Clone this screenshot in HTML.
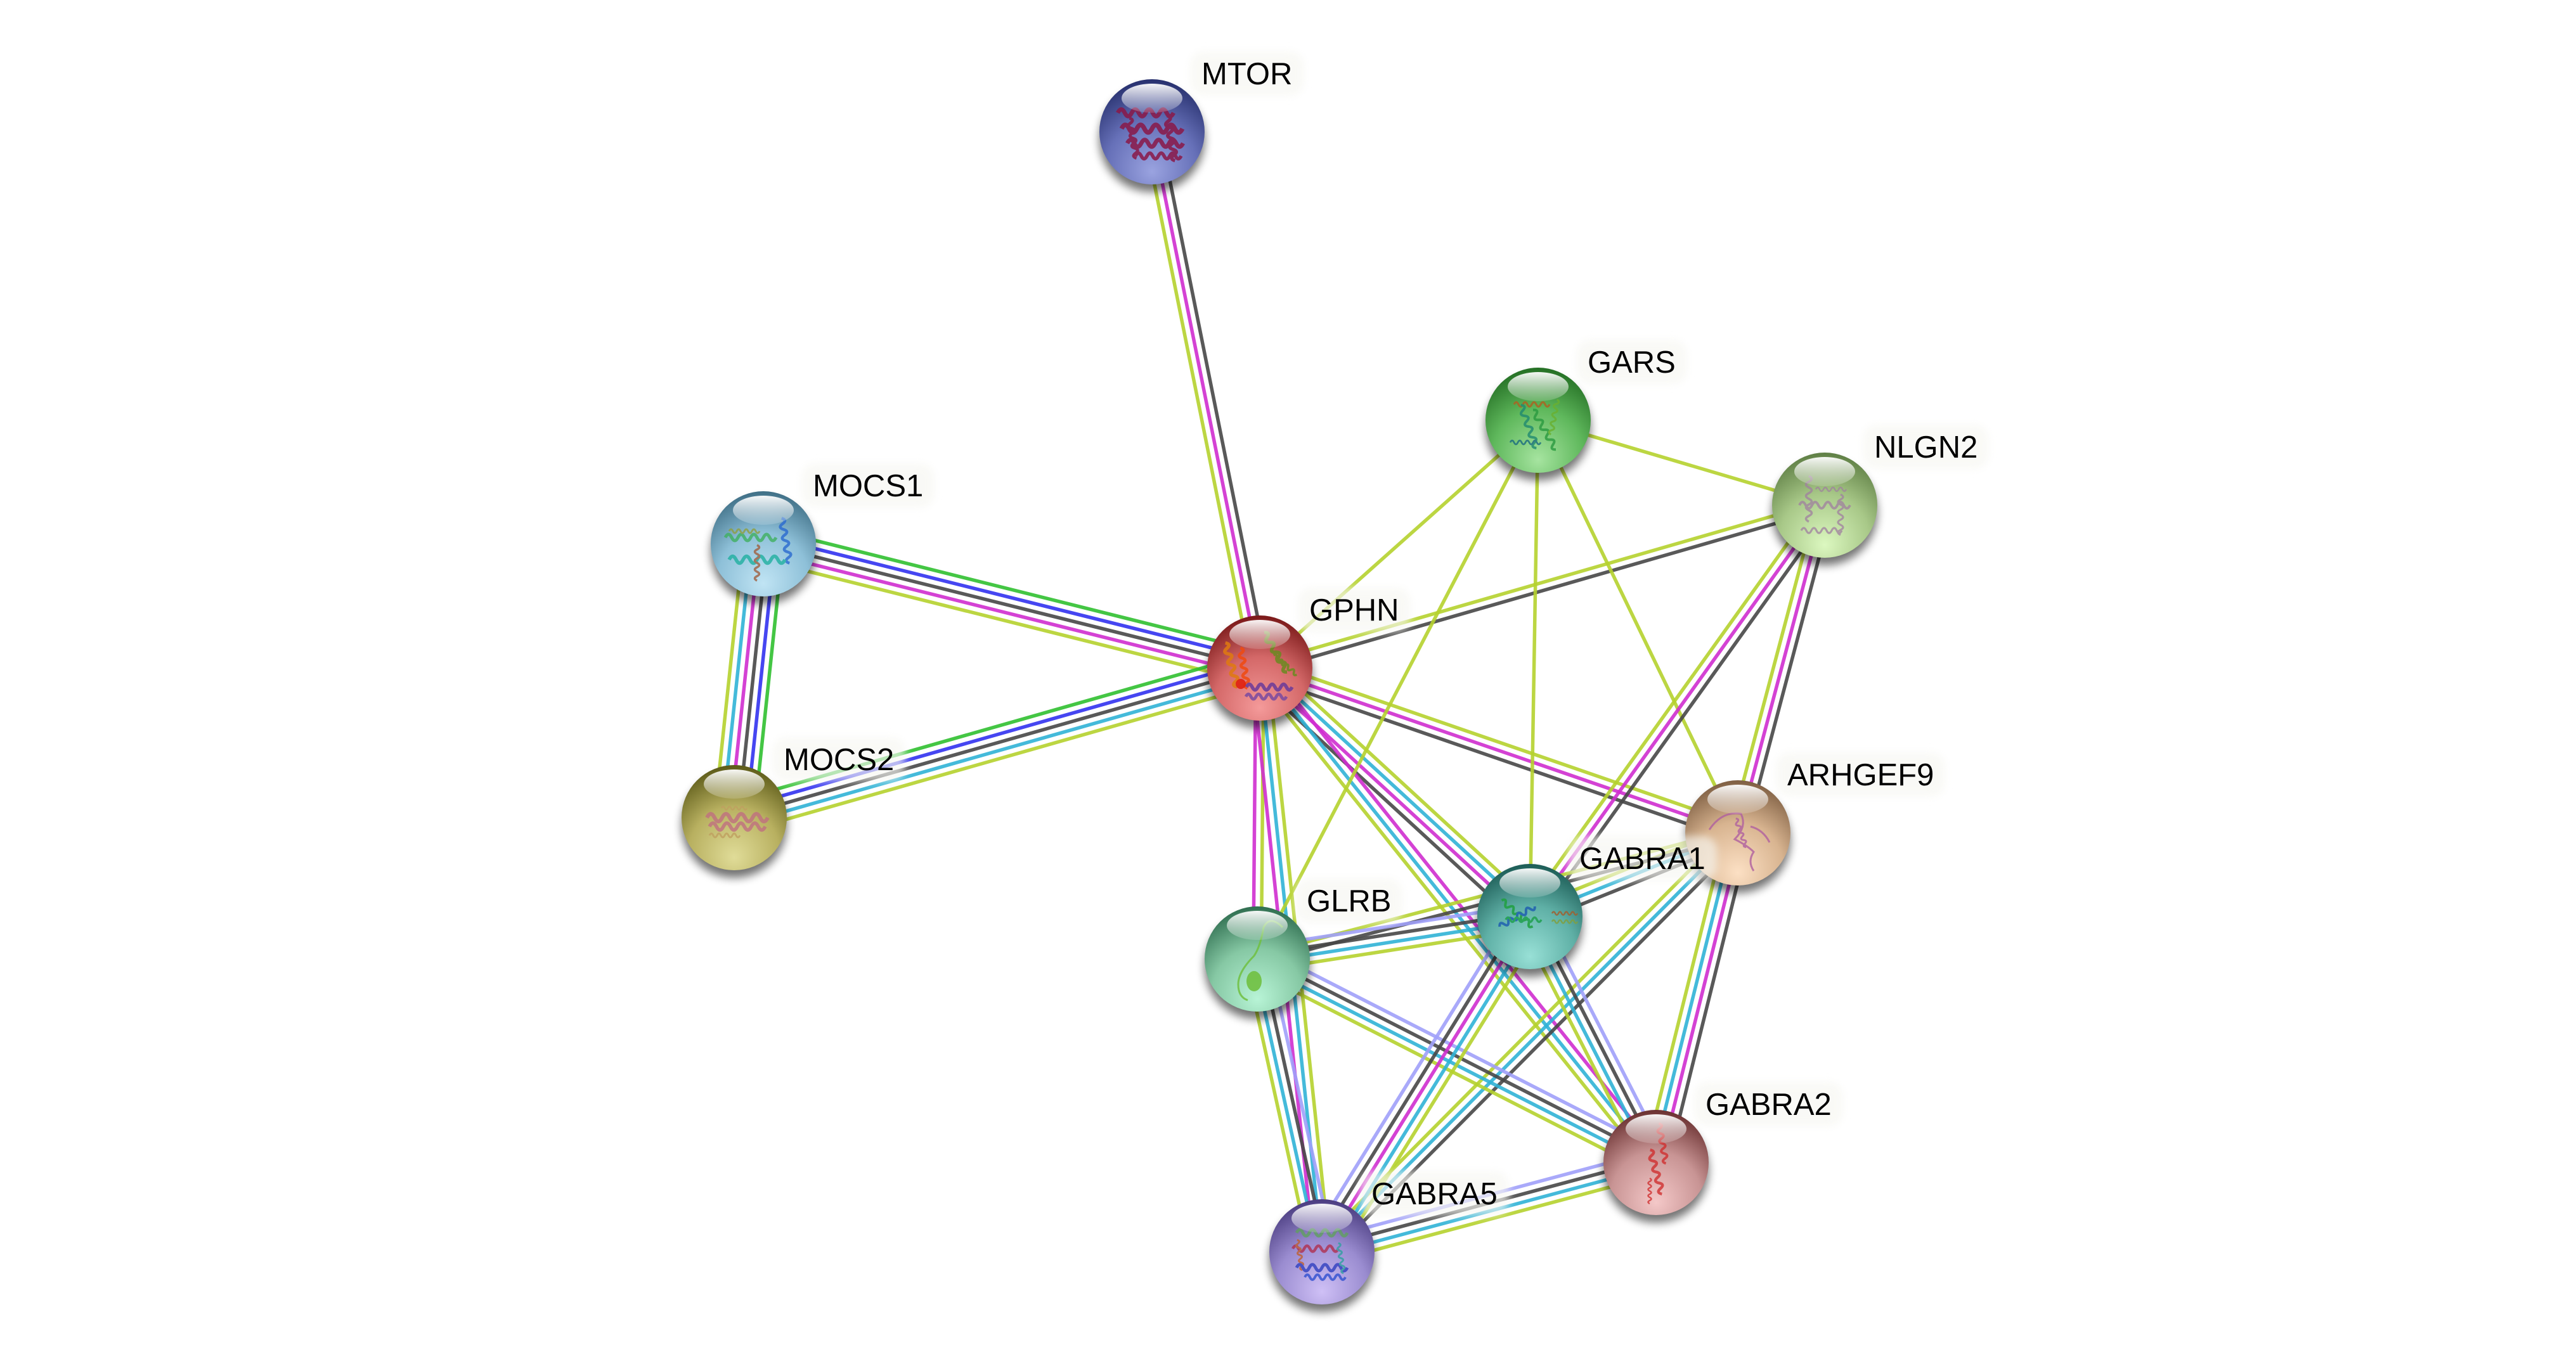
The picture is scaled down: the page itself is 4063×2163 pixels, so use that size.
<!DOCTYPE html>
<html>
<head>
<meta charset="utf-8">
<style>
html,body{margin:0;padding:0;background:#fff;}
svg{display:block;}
.L{stroke:#b5d22d}.M{stroke:#cf2ecf}.D{stroke:#474747}.C{stroke:#30b2d6}.B{stroke:#3232f0}.G{stroke:#30c030}.P{stroke:#a0a0fa}
text{font-family:"Liberation Sans",Arial,sans-serif;font-size:49px;fill:#000;}
</style>
</head>
<body>
<svg width="4063" height="2163" viewBox="0 0 4063 2163" xmlns="http://www.w3.org/2000/svg">
<defs>
<filter id="sh" x="-40%" y="-40%" width="180%" height="180%"><feGaussianBlur stdDeviation="7"/></filter>
<filter id="lb" x="-30%" y="-60%" width="160%" height="220%"><feGaussianBlur stdDeviation="6"/></filter>
<linearGradient id="hl" x1="0" y1="0" x2="0" y2="1">
<stop offset="0" stop-color="#fff" stop-opacity="0.95"/>
<stop offset="1" stop-color="#fff" stop-opacity="0.15"/>
</linearGradient>
<radialGradient id="gMTOR" cx="50%" cy="78%" r="78%" fx="50%" fy="88%"><stop offset="0" stop-color="#9aa3e0"/><stop offset="0.55" stop-color="#6670b8"/><stop offset="1" stop-color="#27306e"/></radialGradient>
<radialGradient id="gGARS" cx="50%" cy="78%" r="78%" fx="50%" fy="88%"><stop offset="0" stop-color="#a6e4a0"/><stop offset="0.55" stop-color="#5fb85c"/><stop offset="1" stop-color="#246f24"/></radialGradient>
<radialGradient id="gNLGN2" cx="50%" cy="78%" r="78%" fx="50%" fy="88%"><stop offset="0" stop-color="#dcf8c0"/><stop offset="0.55" stop-color="#a8c888"/><stop offset="1" stop-color="#5f7f45"/></radialGradient>
<radialGradient id="gMOCS1" cx="50%" cy="78%" r="78%" fx="50%" fy="88%"><stop offset="0" stop-color="#c0e4f4"/><stop offset="0.55" stop-color="#8ec0d8"/><stop offset="1" stop-color="#3f6f86"/></radialGradient>
<radialGradient id="gGPHN" cx="50%" cy="78%" r="78%" fx="50%" fy="88%"><stop offset="0" stop-color="#f49a9a"/><stop offset="0.55" stop-color="#d46868"/><stop offset="1" stop-color="#7a1818"/></radialGradient>
<radialGradient id="gMOCS2" cx="50%" cy="78%" r="78%" fx="50%" fy="88%"><stop offset="0" stop-color="#e0dc98"/><stop offset="0.55" stop-color="#b8b060"/><stop offset="1" stop-color="#5c5a18"/></radialGradient>
<radialGradient id="gARHGEF9" cx="50%" cy="78%" r="78%" fx="50%" fy="88%"><stop offset="0" stop-color="#fce0c4"/><stop offset="0.55" stop-color="#d8b490"/><stop offset="1" stop-color="#7e5e42"/></radialGradient>
<radialGradient id="gGABRA1" cx="50%" cy="78%" r="78%" fx="50%" fy="88%"><stop offset="0" stop-color="#98e0d6"/><stop offset="0.55" stop-color="#5fb0a6"/><stop offset="1" stop-color="#1c5c56"/></radialGradient>
<radialGradient id="gGLRB" cx="50%" cy="78%" r="78%" fx="50%" fy="88%"><stop offset="0" stop-color="#b8f4d6"/><stop offset="0.55" stop-color="#86c8a4"/><stop offset="1" stop-color="#2f6e50"/></radialGradient>
<radialGradient id="gGABRA2" cx="50%" cy="78%" r="78%" fx="50%" fy="88%"><stop offset="0" stop-color="#f4c8c8"/><stop offset="0.55" stop-color="#c89494"/><stop offset="1" stop-color="#6a3030"/></radialGradient>
<radialGradient id="gGABRA5" cx="50%" cy="78%" r="78%" fx="50%" fy="88%"><stop offset="0" stop-color="#cfc0f6"/><stop offset="0.55" stop-color="#9a8cd0"/><stop offset="1" stop-color="#4a3c80"/></radialGradient>
<path id="sq" d="M-40,0 q5,-10 10,0 t10,0 t10,0 t10,0 t10,0 t10,0 t10,0 t10,0" fill="none"/>
</defs>

<rect width="4063" height="2163" fill="#fff"/>

<!-- EDGES -->
<g stroke-width="5.5" stroke-opacity="0.9" fill="none">
<g transform="translate(1817 208) rotate(78.64)"><line class="L" x1="0" y1="12.5" x2="862.9" y2="12.5"/><line class="M" x1="0" y1="0" x2="862.9" y2="0"/><line class="D" x1="0" y1="-12.5" x2="862.9" y2="-12.5"/></g>
<g transform="translate(1204 858) rotate(14.05)"><line class="L" x1="0" y1="25" x2="807.2" y2="25"/><line class="M" x1="0" y1="12.5" x2="807.2" y2="12.5"/><line class="D" x1="0" y1="0" x2="807.2" y2="0"/><line class="B" x1="0" y1="-12.5" x2="807.2" y2="-12.5"/><line class="G" x1="0" y1="-25" x2="807.2" y2="-25"/></g>
<g transform="translate(1158 1290) rotate(-15.89)"><line class="L" x1="0" y1="25" x2="861.9" y2="25"/><line class="C" x1="0" y1="12.5" x2="861.9" y2="12.5"/><line class="D" x1="0" y1="0" x2="861.9" y2="0"/><line class="B" x1="0" y1="-12.5" x2="861.9" y2="-12.5"/><line class="G" x1="0" y1="-25" x2="861.9" y2="-25"/></g>
<g transform="translate(1204 858) rotate(96.08)"><line class="L" x1="0" y1="31.25" x2="434.4" y2="31.25"/><line class="C" x1="0" y1="18.75" x2="434.4" y2="18.75"/><line class="M" x1="0" y1="6.25" x2="434.4" y2="6.25"/><line class="D" x1="0" y1="-6.25" x2="434.4" y2="-6.25"/><line class="B" x1="0" y1="-18.75" x2="434.4" y2="-18.75"/><line class="G" x1="0" y1="-31.25" x2="434.4" y2="-31.25"/></g>
<g transform="translate(1987 1054) rotate(-41.69)"><line class="L" x1="0" y1="0" x2="587.9" y2="0"/></g>
<g transform="translate(1987 1054) rotate(-16.09)"><line class="D" x1="0" y1="6.25" x2="927.3" y2="6.25"/><line class="L" x1="0" y1="-6.25" x2="927.3" y2="-6.25"/></g>
<g transform="translate(1987 1054) rotate(19.03)"><line class="D" x1="0" y1="12.5" x2="797.6" y2="12.5"/><line class="M" x1="0" y1="0" x2="797.6" y2="0"/><line class="L" x1="0" y1="-12.5" x2="797.6" y2="-12.5"/></g>
<g transform="translate(1987 1054) rotate(42.62)"><line class="D" x1="0" y1="18.75" x2="578.9" y2="18.75"/><line class="M" x1="0" y1="6.25" x2="578.9" y2="6.25"/><line class="C" x1="0" y1="-6.25" x2="578.9" y2="-6.25"/><line class="L" x1="0" y1="-18.75" x2="578.9" y2="-18.75"/></g>
<g transform="translate(1987 1054) rotate(51.30)"><line class="L" x1="0" y1="12.5" x2="999.5" y2="12.5"/><line class="C" x1="0" y1="0" x2="999.5" y2="0"/><line class="M" x1="0" y1="-12.5" x2="999.5" y2="-12.5"/></g>
<g transform="translate(1987 1054) rotate(90.5)"><line class="M" x1="0" y1="6.25" x2="459" y2="6.25"/><line class="L" x1="0" y1="-6.25" x2="459" y2="-6.25"/></g>
<g transform="translate(1987 1054) rotate(83.93)"><line class="M" x1="0" y1="12.5" x2="926.2" y2="12.5"/><line class="C" x1="0" y1="0" x2="926.2" y2="0"/><line class="L" x1="0" y1="-12.5" x2="926.2" y2="-12.5"/></g>
<g transform="translate(2426 663) rotate(16.51)"><line class="L" x1="0" y1="0" x2="471.4" y2="0"/></g>
<g transform="translate(2426 663) rotate(90.95)"><line class="L" x1="0" y1="0" x2="783.1" y2="0"/></g>
<g transform="translate(2426 663) rotate(64.18)"><line class="L" x1="0" y1="0" x2="723.2" y2="0"/></g>
<g transform="translate(2426 663) rotate(117.53)"><line class="L" x1="0" y1="0" x2="958.5" y2="0"/></g>
<g transform="translate(2878 797) rotate(125.62)"><line class="L" x1="0" y1="12.5" x2="798.4" y2="12.5"/><line class="M" x1="0" y1="0" x2="798.4" y2="0"/><line class="D" x1="0" y1="-12.5" x2="798.4" y2="-12.5"/></g>
<g transform="translate(2878 797) rotate(104.84)"><line class="L" x1="0" y1="12.5" x2="534.8" y2="12.5"/><line class="M" x1="0" y1="0" x2="534.8" y2="0"/><line class="D" x1="0" y1="-12.5" x2="534.8" y2="-12.5"/></g>
<g transform="translate(2741 1314) rotate(103.93)"><line class="L" x1="0" y1="18.75" x2="535.8" y2="18.75"/><line class="C" x1="0" y1="6.25" x2="535.8" y2="6.25"/><line class="M" x1="0" y1="-6.25" x2="535.8" y2="-6.25"/><line class="D" x1="0" y1="-18.75" x2="535.8" y2="-18.75"/></g>
<g transform="translate(2741 1314) rotate(158.08)"><line class="L" x1="0" y1="12.5" x2="353.6" y2="12.5"/><line class="C" x1="0" y1="0" x2="353.6" y2="0"/><line class="D" x1="0" y1="-12.5" x2="353.6" y2="-12.5"/></g>
<g transform="translate(2741 1314) rotate(134.78)"><line class="L" x1="0" y1="12.5" x2="931.3" y2="12.5"/><line class="C" x1="0" y1="0" x2="931.3" y2="0"/><line class="D" x1="0" y1="-12.5" x2="931.3" y2="-12.5"/></g>
<g transform="translate(1983 1513) rotate(-14.71)"><line class="D" x1="0" y1="6.25" x2="783.7" y2="6.25"/><line class="L" x1="0" y1="-6.25" x2="783.7" y2="-6.25"/></g>
<g transform="translate(1983 1513) rotate(-8.86)"><line class="L" x1="0" y1="18.75" x2="435.2" y2="18.75"/><line class="C" x1="0" y1="6.25" x2="435.2" y2="6.25"/><line class="D" x1="0" y1="-6.25" x2="435.2" y2="-6.25"/><line class="P" x1="0" y1="-18.75" x2="435.2" y2="-18.75"/></g>
<g transform="translate(1983 1513) rotate(77.55)"><line class="L" x1="0" y1="18.75" x2="473.1" y2="18.75"/><line class="C" x1="0" y1="6.25" x2="473.1" y2="6.25"/><line class="D" x1="0" y1="-6.25" x2="473.1" y2="-6.25"/><line class="P" x1="0" y1="-18.75" x2="473.1" y2="-18.75"/></g>
<g transform="translate(1983 1513) rotate(27.03)"><line class="L" x1="0" y1="18.75" x2="706.2" y2="18.75"/><line class="C" x1="0" y1="6.25" x2="706.2" y2="6.25"/><line class="D" x1="0" y1="-6.25" x2="706.2" y2="-6.25"/><line class="P" x1="0" y1="-18.75" x2="706.2" y2="-18.75"/></g>
<g transform="translate(2413 1446) rotate(121.80)"><line class="P" x1="0" y1="25" x2="622.4" y2="25"/><line class="D" x1="0" y1="12.5" x2="622.4" y2="12.5"/><line class="M" x1="0" y1="0" x2="622.4" y2="0"/><line class="C" x1="0" y1="-12.5" x2="622.4" y2="-12.5"/><line class="L" x1="0" y1="-25" x2="622.4" y2="-25"/></g>
<g transform="translate(2413 1446) rotate(62.85)"><line class="L" x1="0" y1="18.75" x2="436.1" y2="18.75"/><line class="C" x1="0" y1="6.25" x2="436.1" y2="6.25"/><line class="D" x1="0" y1="-6.25" x2="436.1" y2="-6.25"/><line class="P" x1="0" y1="-18.75" x2="436.1" y2="-18.75"/></g>
<g transform="translate(2085 1975) rotate(-14.98)"><line class="L" x1="0" y1="18.75" x2="545.5" y2="18.75"/><line class="C" x1="0" y1="6.25" x2="545.5" y2="6.25"/><line class="D" x1="0" y1="-6.25" x2="545.5" y2="-6.25"/><line class="P" x1="0" y1="-18.75" x2="545.5" y2="-18.75"/></g>
</g>

<!-- NODES -->
<g>
<g transform="translate(1817 208)">
<circle cx="0" cy="12" r="83" fill="#000" opacity="0.55" filter="url(#sh)"/>
<circle r="83" fill="url(#gMTOR)"/>
<g stroke="#8a1848" stroke-width="6" opacity="0.85">
<use href="#sq" transform="translate(-10 -30) scale(1.1)"/><use href="#sq" transform="translate(0 -5) scale(1.2)"/><use href="#sq" transform="translate(5 18) scale(1.1)"/><use href="#sq" transform="translate(10 38) scale(0.9)"/><use href="#sq" transform="translate(-30 10) rotate(80) scale(0.8)"/><use href="#sq" transform="translate(30 10) rotate(80) scale(0.9)"/>
</g>
<ellipse cx="0" cy="-53" rx="48" ry="23" fill="url(#hl)"/>
</g>
<g transform="translate(2426 663)">
<circle cx="0" cy="12" r="83" fill="#000" opacity="0.55" filter="url(#sh)"/>
<circle r="83" fill="url(#gGARS)"/>
<g stroke-width="4.5" opacity="0.8">
<use href="#sq" stroke="#b06020" transform="translate(-10 -25) scale(0.7)"/><use href="#sq" stroke="#208a70" transform="translate(-15 10) rotate(70) scale(0.9)"/><use href="#sq" stroke="#2a9a40" transform="translate(10 15) rotate(60) scale(0.9)"/><use href="#sq" stroke="#1a6a80" transform="translate(-20 35) scale(0.6)"/><use href="#sq" stroke="#6ab030" transform="translate(25 -5) rotate(100) scale(0.7)"/>
</g>
<ellipse cx="0" cy="-53" rx="48" ry="23" fill="url(#hl)"/>
</g>
<g transform="translate(2878 797)">
<circle cx="0" cy="12" r="83" fill="#000" opacity="0.55" filter="url(#sh)"/>
<circle r="83" fill="url(#gNLGN2)"/>
<g stroke="#a080a0" stroke-width="4" opacity="0.75">
<use href="#sq" transform="translate(-25 -10) rotate(90) scale(0.9)"/><use href="#sq" transform="translate(0 0) scale(1)"/><use href="#sq" transform="translate(25 15) rotate(90) scale(0.8)"/><use href="#sq" transform="translate(-5 40) scale(0.8)"/><use href="#sq" transform="translate(10 -25) scale(0.6)"/>
</g>
<ellipse cx="0" cy="-53" rx="48" ry="23" fill="url(#hl)"/>
</g>
<g transform="translate(1204 858)">
<circle cx="0" cy="12" r="83" fill="#000" opacity="0.55" filter="url(#sh)"/>
<circle r="83" fill="url(#gMOCS1)"/>
<g stroke-width="5" opacity="0.8">
<use href="#sq" stroke="#40b060" transform="translate(-20 -10) scale(1)"/><use href="#sq" stroke="#2a6ad0" transform="translate(35 -5) rotate(80) scale(0.9)"/><use href="#sq" stroke="#20b0a0" transform="translate(-10 25) scale(1.1)"/><use href="#sq" stroke="#a06040" transform="translate(-10 30) rotate(90) scale(0.7)"/><use href="#sq" stroke="#90a040" transform="translate(-30 -20) scale(0.6)"/>
</g>
<ellipse cx="0" cy="-53" rx="48" ry="23" fill="url(#hl)"/>
</g>
<g transform="translate(1987 1054)">
<circle cx="0" cy="12" r="83" fill="#000" opacity="0.55" filter="url(#sh)"/>
<circle r="83" fill="url(#gGPHN)"/>
<g stroke-width="6" opacity="0.85">
<use href="#sq" stroke="#e07a10" transform="translate(-45 -5) rotate(75) scale(0.9)"/><use href="#sq" stroke="#f04a10" transform="translate(-25 0) rotate(80) scale(0.8)"/><use href="#sq" stroke="#6a8a20" transform="translate(25 -25) rotate(60) scale(0.9)"/><use href="#sq" stroke="#6a8a20" transform="translate(40 -5) rotate(40) scale(0.6)"/><use href="#sq" stroke="#6a3a9a" transform="translate(15 30) scale(0.9)"/><use href="#sq" stroke="#7a4aa0" transform="translate(10 45) scale(0.8)"/>
</g>
<circle cx="-30" cy="25" r="8" fill="#e02010" opacity="0.9"/>
<ellipse cx="0" cy="-53" rx="48" ry="23" fill="url(#hl)"/>
</g>
<g transform="translate(1158 1290)">
<circle cx="0" cy="12" r="83" fill="#000" opacity="0.55" filter="url(#sh)"/>
<circle r="83" fill="url(#gMOCS2)"/>
<g stroke-width="5" opacity="0.8">
<use href="#sq" stroke="#c07080" transform="translate(5 0) scale(1.2)"/><use href="#sq" stroke="#c07080" transform="translate(5 14) scale(1.1)"/><use href="#sq" stroke="#c0a060" transform="translate(-15 28) scale(0.6)"/><use href="#sq" stroke="#c0a060" transform="translate(0 -15) scale(0.5)"/>
</g>
<ellipse cx="0" cy="-53" rx="48" ry="23" fill="url(#hl)"/>
</g>
<g transform="translate(2741 1314)">
<circle cx="0" cy="12" r="83" fill="#000" opacity="0.55" filter="url(#sh)"/>
<circle r="83" fill="url(#gARHGEF9)"/>
<g stroke="#b060a0" stroke-width="3" opacity="0.8" fill="none">
<path d="M-45,-5 q20,-30 50,-25 q10,20 -10,40 q20,10 30,20 q-10,15 0,30 M20,-10 q20,5 30,25"/>
<use href="#sq" transform="translate(5 0) rotate(70) scale(0.6)" stroke-width="5"/>
</g>
<ellipse cx="0" cy="-53" rx="48" ry="23" fill="url(#hl)"/>
</g>
<g transform="translate(2413 1446)">
<circle cx="0" cy="12" r="83" fill="#000" opacity="0.55" filter="url(#sh)"/>
<circle r="83" fill="url(#gGABRA1)"/>
<g stroke-width="5" opacity="0.85">
<use href="#sq" stroke="#20a040" transform="translate(-20 -5) rotate(40) scale(0.8)"/><use href="#sq" stroke="#2060b0" transform="translate(-20 0) rotate(-30) scale(0.8)"/><use href="#sq" stroke="#20a050" transform="translate(-10 5) scale(0.7)"/><use href="#sq" stroke="#a06030" transform="translate(55 -5) scale(0.5)"/><use href="#sq" stroke="#80a040" transform="translate(55 8) scale(0.5)"/>
</g>
<ellipse cx="0" cy="-53" rx="48" ry="23" fill="url(#hl)"/>
</g>
<g transform="translate(1983 1513)">
<circle cx="0" cy="12" r="83" fill="#000" opacity="0.55" filter="url(#sh)"/>
<circle r="83" fill="url(#gGLRB)"/>
<path d="M40,-50 q-20,-20 -30,0 q-5,30 -15,45 q-25,25 -25,45 q0,20 15,25" stroke="#70c040" stroke-width="3" fill="none" opacity="0.85"/>
<ellipse cx="-5" cy="35" rx="12" ry="16" fill="#70c040" opacity="0.9"/>
<ellipse cx="0" cy="-53" rx="48" ry="23" fill="url(#hl)"/>
</g>
<g transform="translate(2612 1834)">
<circle cx="0" cy="12" r="83" fill="#000" opacity="0.55" filter="url(#sh)"/>
<circle r="83" fill="url(#gGABRA2)"/>
<g stroke="#d03030" stroke-width="5" opacity="0.8">
<use href="#sq" transform="translate(10 -30) rotate(80) scale(0.8)"/><use href="#sq" transform="translate(0 15) rotate(75) scale(0.9)"/><use href="#sq" transform="translate(-10 45) rotate(90) scale(0.5)"/>
</g>
<ellipse cx="0" cy="-53" rx="48" ry="23" fill="url(#hl)"/>
</g>
<g transform="translate(2085 1975)">
<circle cx="0" cy="12" r="83" fill="#000" opacity="0.55" filter="url(#sh)"/>
<circle r="83" fill="url(#gGABRA5)"/>
<g stroke-width="5" opacity="0.8">
<use href="#sq" stroke="#60a060" transform="translate(0 -30) scale(1)"/><use href="#sq" stroke="#b03050" transform="translate(-10 -5) scale(0.9)"/><use href="#sq" stroke="#c06030" transform="translate(-35 5) rotate(80) scale(0.6)"/><use href="#sq" stroke="#3040c0" transform="translate(0 25) scale(1)"/><use href="#sq" stroke="#3050d0" transform="translate(5 40) scale(0.8)"/><use href="#sq" stroke="#30a0a0" transform="translate(30 10) rotate(80) scale(0.6)"/>
</g>
<ellipse cx="0" cy="-53" rx="48" ry="23" fill="url(#hl)"/>
</g>
</g>

<!-- LABELS -->
<g>
<rect x="1877" y="81" width="180" height="70" rx="22" fill="#f7f7f2" opacity="0.65" filter="url(#lb)"/>
<text x="1895" y="133">MTOR</text>
<rect x="2047" y="927" width="178" height="70" rx="22" fill="#f7f7f2" opacity="0.65" filter="url(#lb)"/>
<text x="2065" y="979">GPHN</text>
<rect x="2486" y="536" width="175" height="70" rx="22" fill="#f7f7f2" opacity="0.65" filter="url(#lb)"/>
<text x="2504" y="588">GARS</text>
<rect x="2938" y="670" width="199" height="70" rx="22" fill="#f7f7f2" opacity="0.65" filter="url(#lb)"/>
<text x="2956" y="722">NLGN2</text>
<rect x="1264" y="731" width="210" height="70" rx="22" fill="#f7f7f2" opacity="0.65" filter="url(#lb)"/>
<text x="1282" y="783">MOCS1</text>
<rect x="1218" y="1163" width="210" height="70" rx="22" fill="#f7f7f2" opacity="0.65" filter="url(#lb)"/>
<text x="1236" y="1215">MOCS2</text>
<rect x="2801" y="1187" width="267" height="70" rx="22" fill="#f7f7f2" opacity="0.65" filter="url(#lb)"/>
<text x="2819" y="1239">ARHGEF9</text>
<rect x="2473" y="1319" width="235" height="70" rx="22" fill="#f7f7f2" opacity="0.65" filter="url(#lb)"/>
<text x="2491" y="1371">GABRA1</text>
<rect x="2043" y="1386" width="169" height="70" rx="22" fill="#f7f7f2" opacity="0.65" filter="url(#lb)"/>
<text x="2061" y="1438">GLRB</text>
<rect x="2672" y="1707" width="235" height="70" rx="22" fill="#f7f7f2" opacity="0.65" filter="url(#lb)"/>
<text x="2690" y="1759">GABRA2</text>
<rect x="2145" y="1848" width="235" height="70" rx="22" fill="#f7f7f2" opacity="0.65" filter="url(#lb)"/>
<text x="2163" y="1900">GABRA5</text>
</g>
</svg>
</body>
</html>
